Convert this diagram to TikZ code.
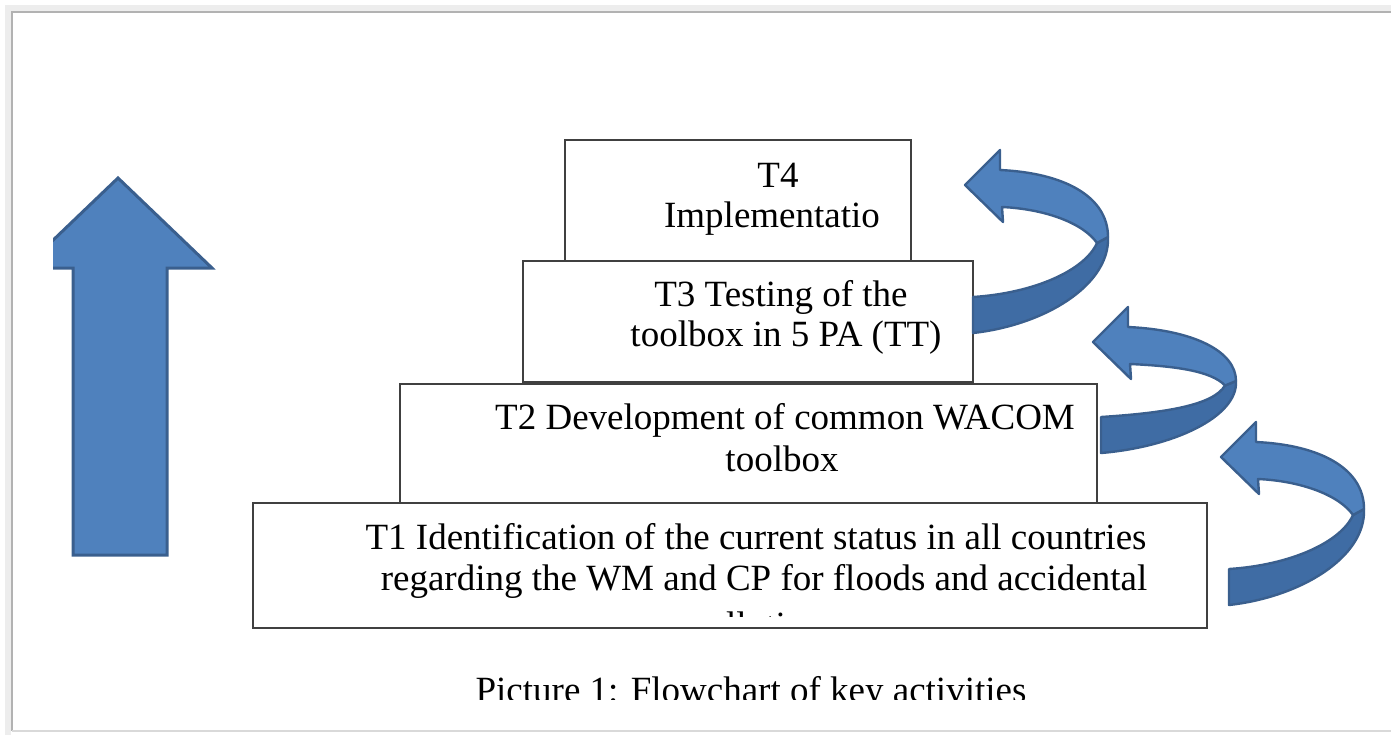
\documentclass[tikz,border=0pt]{standalone}
\usepackage{fontspec}
\setmainfont{Liberation Serif}
\usetikzlibrary{calc}
\definecolor{arrowblue}{HTML}{4F81BD}
\definecolor{arrowdark}{HTML}{3F6CA4}
\definecolor{arrowline}{HTML}{3A5F8E}

% turning ribbon arrow: tip x, tip y, drop of the lower part
\newcommand\turnarrow[3]{%
\begin{scope}[shift={(#1,#2)}]
\filldraw[fill=arrowdark, draw=arrowline, line width=1.2pt, line join=round] (132,{58*#3}) -- (143,{52*#3}) .. controls (145,{100*#3}) and (80,{140*#3}) .. (8,{148*#3}) -- (8,{148*#3-36}) .. controls (70,{148*#3-40}) and (120,{85*#3}) .. cycle;
\filldraw[fill=arrowblue, draw=arrowline, line width=1.2pt, line join=round] (0,0) -- (35,-35) -- (35,-15) .. controls (100,-12) and (143,{12*#3}) .. (143,{52*#3}) -- (132,{58*#3}) .. controls (118,{38*#3}) and (80,24) .. (37,22) -- (38,37) -- cycle;
\end{scope}}

\begin{document}
\begin{tikzpicture}[x=0.5pt, y=-0.5pt,
  tbox/.style = {draw=black!75, fill=white, line width=0.7pt, inner sep=0},
  txt/.style = {inner sep=0, anchor=base, font=\fontsize{18.5}{21}\selectfont}]
\useasboundingbox (0,0) rectangle (1391,734);
% frame with soft shadow
\draw [black!7, line width=3pt] (8,742) -- (8,8) -- (1400,8);
\draw [black!30, line width=0.8pt] (12,731) -- (12,12) -- (1400,12);
\draw [black!15, line width=0.8pt] (12,731) -- (1400,731);

% big arrow on the left, cut at its left end
\begin{scope}
\clip (53,0) rectangle (400,734);
\filldraw [fill=arrowblue, draw=arrowline, line width=1.5pt, line join=miter]
  (118,178) -- (212,268) -- (167,268) -- (167,555) -- (73,555) -- (73,268) -- (24,268) -- cycle;
\end{scope}

% stacked boxes
\node [tbox, minimum width=173pt, minimum height=61pt] (t4) at (738,201) {};
\node [tbox, minimum width=225pt, minimum height=60.5pt] (t3) at (748,321.5) {};
\node [tbox, minimum width=348.5pt, minimum height=60.5pt] (t2) at (748.5,444.5) {};
\node [tbox, minimum width=477pt, minimum height=62.5pt] (t1) at (730,565.5) {};

\node [txt] (t4a) at (778,187) {T4};
\node [txt] (t4b) at (772,227) {Implementatio};
\node [txt] (t3a) at (781,306) {T3 Testing of the};
\node [txt] (t3b) at (786,346) {toolbox in 5 PA (TT)};
\node [txt] (t2a) at (785,429) {T2 Development of common WACOM};
\node [txt] (t2b) at (782,471) {toolbox};
\node [txt] (t1a) at (756,549) {T1 Identification of the current status in all countries};
\node [txt] (t1b) at (764,590) {regarding the WM and CP for floods and accidental};
\begin{scope}
\clip (260,505) rectangle (1200,616);
\node [txt] (t1c) at (756,637) {pollution};
\end{scope}

% turning arrows
\turnarrow{965}{185}{1}
\turnarrow{1093}{342}{0.75}
\turnarrow{1221}{457}{1}

% caption, cut at the bottom
\begin{scope}
\clip (400,640) rectangle (1100,699);
\node [txt] (cap) at (751,702) {Picture 1: Flowchart of key activities};
\end{scope}
\end{tikzpicture}
\end{document}
